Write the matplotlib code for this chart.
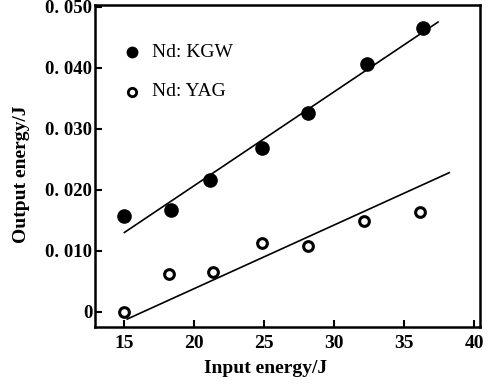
import numpy as np
import matplotlib.pyplot as plt

plt.rcParams['font.family'] = 'Liberation Serif'

# Nd:KGW (filled)
kgw_x = [15.0, 18.3, 21.1, 24.8, 28.1, 32.3, 36.3]
kgw_y = [0.0157, 0.0167, 0.0216, 0.0268, 0.0326, 0.0406, 0.0466]
# Nd:YAG (open)
yag_x = [15.0, 18.2, 21.3, 24.8, 28.1, 32.1, 36.1]
yag_y = [0.0000, 0.0062, 0.0065, 0.0112, 0.0108, 0.0149, 0.0164]

# hand drawn fit lines (end points)
kgw_fit_x = [15.0, 37.4]
kgw_fit_y = [0.0130, 0.0475]
yag_fit_x = [15.2, 38.2]
yag_fit_y = [-0.0012, 0.0228]

xticks = [15, 20, 25, 30, 35, 40]
yticks = [0, 0.010, 0.020, 0.030, 0.040, 0.050]
ytick_labels = ['0', '0. 010', '0. 020', '0. 030', '0. 040', '0. 050']

fig = plt.figure(figsize=(4.9, 3.85), dpi=100)
ax = fig.add_axes([95 / 490, 58 / 385, 385 / 490, 322 / 385])

ax.plot(kgw_fit_x, kgw_fit_y, color='black', lw=1.2)
ax.plot(yag_fit_x, yag_fit_y, color='black', lw=1.2)
ax.plot(kgw_x, kgw_y, 'o', color='black', ms=9.5, ls='none')
ax.plot(yag_x, yag_y, 'o', mfc='white', mec='black', mew=2.2, ms=7, ls='none')

# legend drawn by hand, like the original figure
ax.plot([0.096], [0.854], 'o', color='black', ms=7.5, transform=ax.transAxes)
ax.text(0.148, 0.854, 'Nd: KGW', transform=ax.transAxes, fontsize=14,
        va='center', ha='left')
ax.plot([0.096], [0.730], 'o', mfc='white', mec='black', mew=2, ms=6,
        transform=ax.transAxes)
ax.text(0.148, 0.730, 'Nd: YAG', transform=ax.transAxes, fontsize=14,
        va='center', ha='left')

ax.set_xlim(12.9, 40.4)
ax.set_ylim(-0.0025, 0.0503)
ax.set_xticks(xticks)
ax.set_xticklabels([str(t) for t in xticks], fontsize=14, fontweight='bold')
ax.set_yticks(yticks)
ax.set_yticklabels(ytick_labels, fontsize=13.5, fontweight='bold')
ax.tick_params(direction='in', length=5, width=1.5)
ax.tick_params(axis='x', pad=6)
ax.tick_params(axis='y', pad=2)
for s in ax.spines.values():
    s.set_linewidth(1.8)

ax.set_xlabel('Input energy/J', fontsize=14, fontweight='bold')
ax.set_ylabel('Output energy/J', fontsize=14, fontweight='bold')
ax.xaxis.set_label_coords(0.444, -0.103)
ax.yaxis.set_label_coords(-0.169, 0.475)

plt.savefig('out.png', dpi=100)
